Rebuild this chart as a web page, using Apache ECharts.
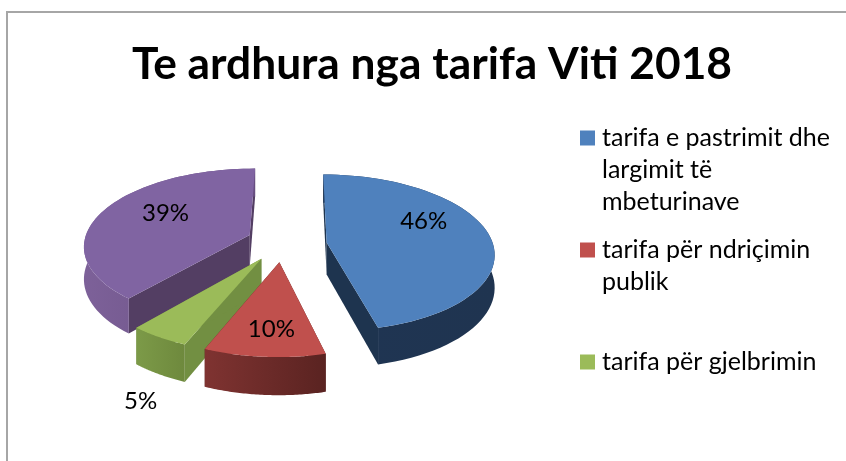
<!DOCTYPE html>
<html>
<head>
<meta charset="utf-8">
<style>
html, body { margin: 0; padding: 0; background: #fff; }
#chart { width: 846px; height: 461px; }
</style>
<script src="https://cdn.jsdelivr.net/npm/echarts@6/dist/echarts.min.js"></script>
</head>
<body>
<div id="chart"></div>
<script>
var categories = ['tarifa e pastrimit dhe\nlargimit të\nmbeturinave', 'tarifa për ndriçimin\npublik', 'tarifa për gjelbrimin', 'të tjera'];
var values = [46, 10, 5, 39];
var colors = ['#4F81BD', '#C0504D', '#9BBB59', '#8064A2'];
// side of the slice: outer wall left/right, then the two cut walls
var wallLeft = ['#1F3553', '#7F3331', '#7C9A48', '#7D6199'];
var wallRight = ['#1F3450', '#5A2321', '#6E893D', '#674E80'];
var cutWall = ['#1E344F', '#5A2321', '#728F42', '#533E63'];
// label spot on the pie plane, from the slice tip
var labelAngle = [65, 183, 201, 299];
var labelReach = [0.68, 0.734, 1.525, 0.62];
var drawOrder = [3, 5, 4, 2];

// 3D pie, there is no such series in echarts so it is projected by hand
var cx = 286, cy = 243, radiusX = 166, radiusY = 77, depth = 32, perspective = 0.13;
var explode = 0.245, explodeTurn = 5, firstAngle = 0.5;
var total = values.reduce(function (a, b) { return a + b; }, 0);

function project(u, v, down) {
    var f = 1 / (1 - perspective * v);
    return [cx + radiusX * u * f, cy + radiusY * v * f + (down ? depth * f : 0)];
}

function renderSlice(params, api) {
    var idx = params.seriesIndex;
    var before = values.slice(0, idx).reduce(function (a, b) { return a + b; }, 0);
    var a0 = firstAngle + before / total * 360;
    var a1 = a0 + api.value(0) / total * 360;
    var mid = ((a0 + a1) / 2 + explodeTurn) * Math.PI / 180;
    var ou = Math.sin(mid) * explode, ov = -Math.cos(mid) * explode;

    var top = [], bottom = [];
    for (var a = a0; a <= a1 + 0.001; a += (a1 - a0) / 60) {
        var r = a * Math.PI / 180;
        top.push(project(ou + Math.sin(r), ov - Math.cos(r), false));
        bottom.push(project(ou + Math.sin(r), ov - Math.cos(r), true));
    }
    var apexT = project(ou, ov, false), apexB = project(ou, ov, true);
    var first = 0, last = top.length - 1;
    var la = labelAngle[idx] * Math.PI / 180;
    var lab = project(ou + Math.sin(la) * labelReach[idx], ov - Math.cos(la) * labelReach[idx], false);

    var outerFill = {
        type: 'linear', x: 0, y: 0, x2: 1, y2: 0,
        colorStops: [{ offset: 0, color: wallLeft[idx] }, { offset: 1, color: wallRight[idx] }]
    };
    return {
        type: 'group',
        children: [
            { type: 'polygon', shape: { points: [apexT, top[first], bottom[first], apexB] }, style: { fill: cutWall[idx] } },
            { type: 'polygon', shape: { points: [apexT, top[last], bottom[last], apexB] }, style: { fill: cutWall[idx] } },
            { type: 'polygon', shape: { points: top.concat(bottom.slice().reverse()) }, style: { fill: outerFill } },
            { type: 'polygon', shape: { points: [apexT].concat(top) }, style: { fill: colors[idx] } },
            {
                type: 'text', z2: 10,
                style: {
                    x: lab[0], y: lab[1], text: api.value(0) + '%', fill: '#000',
                    font: '24px Lato', align: 'center', verticalAlign: 'middle'
                }
            }
        ]
    };
}

var myChart = echarts.init(document.getElementById('chart'));
myChart.setOption({
    animation: false,
    color: colors,
    title: {
        text: 'Te ardhura nga tarifa Viti 2018',
        left: 427, top: 38, textAlign: 'center',
        textStyle: { fontFamily: 'Lato', fontWeight: 'bold', fontSize: 44.3, color: '#000' }
    },
    legend: {
        data: categories.slice(0, 3),
        orient: 'vertical',
        left: 575, top: 53,
        icon: 'rect', itemWidth: 15, itemHeight: 15, itemGap: -48,
        selectedMode: false,
        // blank lines keep the swatch level with the first text line
        formatter: function (name) {
            var lines = name.split('\n');
            while (lines.length < 3) lines.push(' ');
            return '\n\n' + lines.join('\n');
        },
        textStyle: { fontFamily: 'Lato', fontSize: 25, lineHeight: 32, color: '#000', padding: [0, 0, 0, 2] }
    },
    graphic: [{
        type: 'polyline',
        shape: { points: [[7, 461], [7, 12], [846, 12]] },
        style: { fill: null, stroke: '#A6A6A6', lineWidth: 2 }
    }],
    series: categories.map(function (name, i) {
        return {
            type: 'custom',
            name: name,
            coordinateSystem: 'none',
            z: drawOrder[i],
            silent: true,
            renderItem: renderSlice,
            data: [[values[i]]]
        };
    })
});
</script>
</body>
</html>
